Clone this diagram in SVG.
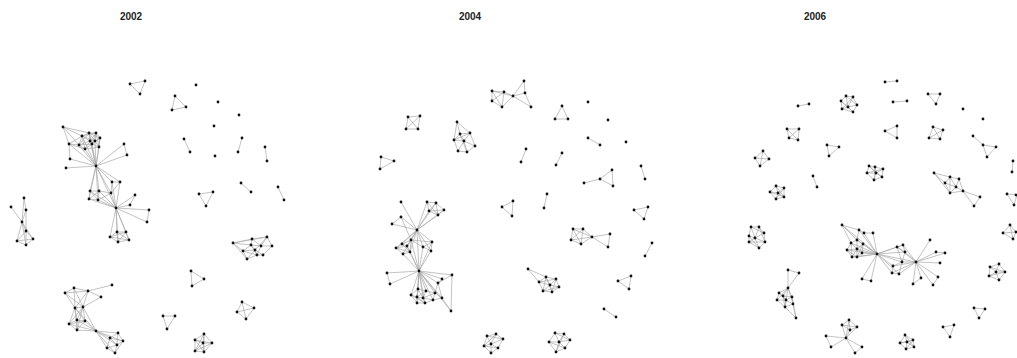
<svg xmlns="http://www.w3.org/2000/svg" xmlns:xlink="http://www.w3.org/1999/xlink" width="1017" height="358" viewBox="0 0 1017 358">
<style>
.t{font-family:"Liberation Sans",Arial,sans-serif;font-size:10px;font-weight:bold;fill:#222;text-anchor:middle}
.e{fill:none;stroke:#a9a9a9;stroke-width:0.7}
</style>
<defs><circle id="v" r="1.4" fill="#111"/></defs>
<rect width="1017" height="358" fill="#fff"/>
<text class="t" x="131" y="20">2002</text>
<text class="t" x="470" y="20">2004</text>
<text class="t" x="815" y="20">2006</text>
<g id="connectors">
<!-- 2002 -->
<path class="e" d="M130 84L145 81L140 94Z"/>
<path class="e" d="M63 127L82 136M63 127L89 133M63 127L69 144M63 127L79 145M82 136L89 133M82 136L96 133M82 136L69 144M82 136L79 145M82 136L85 149M82 136L90 141M82 136L95 141M89 133L96 133M89 133L100 138M89 133L90 141M89 133L95 141M89 133L92 144M89 133L79 145M96 133L100 138M96 133L95 141M96 133L90 141M96 133L99 147M96 133L92 144M100 138L99 147M100 138L95 141M100 138L92 144M69 144L79 145M69 144L85 149M69 144L70 159M79 145L85 149M79 145L90 141M79 145L92 144M85 149L92 144M85 149L90 141M85 149L99 147M92 144L99 147M92 144L95 141M92 144L90 141M99 147L95 141M95 141L90 141M96 166L69 144M96 166L79 145M96 166L85 149M96 166L92 144M96 166L99 147M96 166L95 141M96 166L90 141M96 166L100 138M96 166L70 159M96 166L66 168M96 166L124 144M96 166L127 155M96 166L82 136M96 166L89 133M124 144L127 155M96 166L112 182M96 166L120 182M96 166L90 191M96 166L99 191M96 166L89 199M96 166L98 200M96 166L111 193M96 166L116 208M112 182L120 182M112 182L111 193M120 182L111 193M90 191L99 191M90 191L89 199M99 191L98 200M89 199L98 200M90 191L98 200M99 191L89 199M99 191L111 193M98 200L111 193M111 193L116 208M112 182L116 208M120 182L116 208M90 191L116 208M99 191L116 208M89 199L116 208M98 200L116 208M116 208L135 195M116 208L130 205M116 208L149 210M135 195L130 205M116 208L147 222M149 210L147 222M116 208L110 237M116 208L117 232M116 208L126 232M116 208L129 240M116 208L118 242M110 237L117 232M117 232L126 232M126 232L129 240M129 240L118 242M118 242L110 237M110 237L126 232M117 232L118 242M117 232L129 240M110 237L129 240M126 232L118 242"/>
<path class="e" d="M24 198L26 210M24 198L22 222M11 207L22 222M26 210L22 222M26 210L26 231M22 222L26 231M22 222L17 241M22 222L26 245M26 231L33 239M26 231L17 241M26 231L26 245M33 239L26 245M17 241L26 245M33 239L17 241M22 222L33 239"/>
<path class="e" d="M112 285L88 291M74 288L88 291M74 288L65 293M65 293L88 291M88 291L101 297M74 288L75 308M74 288L83 307M88 291L75 308M88 291L83 307M65 293L75 308M65 293L83 307M101 297L83 307M75 308L83 307M75 308L77 320M75 308L85 321M75 308L69 324M75 308L77 330M83 307L77 320M83 307L85 321M83 307L69 324M83 307L77 330M77 320L85 321M77 320L69 324M85 321L69 324M69 324L77 330M85 321L77 330M77 320L77 330M77 330L96 331M85 321L96 331M69 324L96 331M77 320L96 331M75 308L96 331M83 307L96 331M96 331L110 338M96 331L118 333M96 331L123 341M96 331L117 345M96 331L107 348M96 331L115 353M110 338L118 333M110 338L123 341M118 333L123 341M123 341L117 345M117 345L107 348M107 348L115 353M117 345L115 353M110 338L107 348M110 338L117 345M118 333L117 345M123 341L115 353"/>
<path class="e" d="M175 96L186 107L172 110ZM184 139L190 152M242 138L238 152M265 147L267 161M241 183L251 192M278 187L284 200M199 194L213 192L206 206Z"/>
<path class="e" d="M233 243L252 239M233 243L267 237M233 243L243 251M233 243L247 259M252 239L267 237M252 239L251 245M252 239L261 246M267 237L272 246M267 237L261 246M267 237L255 250M272 246L261 246M272 246L263 255M261 246L257 255M261 246L251 245M251 245L243 251M251 245L255 250M243 251L247 259M243 251L255 250M247 259L257 255M247 259L255 250M257 255L263 255M257 255L255 250M263 255L255 250M251 245L257 255M243 251L257 255M233 243L251 245"/>
<path class="e" d="M191 271L204 279L192 286ZM242 302L254 308L246 319L237 312ZM242 302L246 319M254 308L237 312M163 316L175 316L167 329Z"/>
<path class="e" d="M204 334L195 340M204 334L212 343M195 340L195 351M212 343L204 352M195 351L204 352M204 334L203 343M195 340L203 343M212 343L203 343M195 351L203 343M204 352L203 343M204 334L195 351M195 340L204 352M204 334L204 352M195 340L212 343M212 343L195 351"/>
<!-- 2004 -->
<path class="e" d="M492 91L504 92M492 91L492 101M492 91L502 107M504 92L513 96M504 92L502 107M492 101L502 107M513 96L502 107M504 92L492 101M513 96L524 81M513 96L525 93M513 96L531 107M524 81L525 93M525 93L531 107M492 91L513 96"/>
<path class="e" d="M408 117L420 116L418 129L406 129ZM408 117L418 129M420 116L406 129"/>
<path class="e" d="M457 122L460 134M457 122L470 133M457 122L454 140M460 134L470 133M460 134L454 140M460 134L464 141M470 133L464 141M470 133L475 146M454 140L464 141M454 140L458 151M464 141L475 146M464 141L458 151M464 141L467 152M475 146L467 152M458 151L467 152M470 133L454 140M460 134L467 152"/>
<path class="e" d="M381 157L394 161L380 169ZM562 106L555 119L568 119ZM588 138L600 145M526 149L521 162M562 153L556 165M641 166L645 179M547 194L544 208M652 243L645 256M604 309L616 317M584 183L600 179M600 179L612 170L613 186ZM513 201L502 207L512 216ZM634 210L648 207L644 219ZM618 281L631 276L629 289Z"/>
<path class="e" d="M401 202L417 230M427 202L417 230M436 203L417 230M429 211L417 230M438 215L417 230M444 210L417 230M427 202L436 203M436 203L444 210M427 202L429 211M429 211L438 215M444 210L438 215M436 203L438 215M436 203L429 211M427 202L438 215M444 210L429 211M401 217L392 224M392 224L417 230M401 217L417 230M401 217L411 240M417 230L411 240M417 230L432 242M417 230L402 244M417 230L396 248M417 230L407 246M417 230L423 247M417 230L431 251M417 230L410 252M417 230L403 254M411 240L407 246M402 244L396 248M396 248L407 246M396 248L403 254M402 244L410 252M411 240L423 247M432 242L423 247M432 242L431 251M423 247L431 251M410 252L403 254M411 240L410 252M402 244L407 246M402 244L411 240M407 246L410 252M396 248L410 252M432 242L411 240M417 230L419 271M419 271L411 240M419 271L423 247M419 271L410 252M419 271L431 251M419 271L407 246M419 271L403 254M419 271L432 242M419 271L387 273M387 273L390 284M419 271L390 284M419 271L452 275M419 271L442 279M419 271L438 283M452 275L438 283M452 275L451 311M442 279L438 283M419 271L418 289M419 271L426 291M419 271L411 295M419 271L417 297M419 271L423 298M419 271L435 293M419 271L442 298M419 271L433 300M419 271L417 303M419 271L425 303M419 271L451 311M418 289L426 291M418 289L411 295M418 289L417 297M426 291L423 298M426 291L435 293M411 295L417 297M411 295L417 303M417 297L423 298M417 297L417 303M417 297L425 303M423 298L425 303M423 298L433 300M435 293L442 298M435 293L433 300M442 298L433 300M433 300L425 303M417 303L425 303M426 291L417 297M418 289L423 298M411 295L425 303M435 293L423 298M442 298L451 311M438 283L435 293M438 283L442 298"/>
<path class="e" d="M487 336L496 334M487 336L484 346M487 336L491 344M496 334L503 339M496 334L491 344M484 346L491 344M484 346L491 353M491 344L498 348M503 339L498 348M498 348L491 353M491 344L491 353M491 344L503 339M487 336L503 339M496 334L484 346M484 346L498 348"/>
<path class="e" d="M573 229L583 229M573 229L571 240M573 229L581 244M583 229L571 240M583 229L581 244M583 229L592 237M571 240L581 244M581 244L592 237M573 229L592 237M571 240L592 237M592 237L610 234M592 237L608 247M610 234L608 247"/>
<path class="e" d="M528 269L539 282M528 269L546 277M539 282L546 277M546 277L556 279M556 279L559 287M559 287L552 292M552 292L543 291M543 291L539 282M550 285L539 282M550 285L546 277M550 285L556 279M550 285L559 287M550 285L552 292M550 285L543 291M546 277L552 292M539 282L556 279M543 291L559 287M546 277L543 291M556 279L552 292"/>
<path class="e" d="M555 333L564 334M555 333L549 342M564 334L570 340M549 342L556 352M570 340L565 348M565 348L556 352M559 342L555 333M559 342L564 334M559 342L549 342M559 342L570 340M559 342L565 348M559 342L556 352M555 333L570 340M549 342L565 348M564 334L556 352"/>
<!-- 2006 -->
<path class="e" d="M798 106L809 104M885 82L897 81M893 102L907 101M928 94L940 94L936 104ZM885 131L897 126L897 138ZM827 145L839 147L829 156ZM813 176L817 187M973 136L983 145M983 145L996 147L987 157ZM1013 161L1012 172M1007 194L1017 195L1014 205ZM974 308L985 309L979 318ZM943 327L954 325L950 337Z"/>
<path class="e" d="M787 129L799 129L798 140L789 138ZM787 129L798 140M799 129L789 138M763 151L769 159L760 166L755 158ZM763 151L760 166M755 158L769 159M933 127L943 130L940 139L929 138ZM933 127L940 139M943 130L929 138M1010 225L1016 232L1013 239L1003 233ZM1010 225L1013 239M1016 232L1003 233"/>
<path class="e" d="M846 96L853 97M846 96L841 101M853 97L857 105M841 101L842 109M857 105L853 112M842 109L853 112M848 107L846 96M848 107L853 97M848 107L841 101M848 107L857 105M848 107L842 109M848 107L853 112M846 96L857 105M841 101L853 112M853 97L842 109"/>
<path class="e" d="M776 186L784 188M776 186L770 192M784 188L784 197M770 192L776 199M784 197L776 199M778 193L776 186M778 193L784 188M778 193L770 192M778 193L784 197M778 193L776 199M776 186L784 197M770 192L784 197M784 188L776 199"/>
<path class="e" d="M869 166L875 167M875 167L883 169M869 166L867 173M883 169L882 177M867 173L874 180M882 177L874 180M876 173L869 166M876 173L875 167M876 173L883 169M876 173L867 173M876 173L882 177M876 173L874 180M869 166L882 177M875 167L874 180M867 173L883 169"/>
<path class="e" d="M934 173L950 177M934 173L945 183M950 177L959 179M950 177L945 183M950 177L956 187M959 179L956 187M945 183L956 187M945 183L950 193M956 187L950 193M950 193L963 191M956 187L963 191M959 179L963 191M963 191L980 197M963 191L974 206M980 197L974 206M934 173L950 193M950 177L950 193"/>
<path class="e" d="M751 227L759 227M759 227L764 233M751 227L749 236M764 233L765 242M749 236L749 242M749 242L759 248M765 242L759 248M755 238L751 227M755 238L759 227M755 238L764 233M755 238L749 236M755 238L749 242M755 238L759 248M755 238L765 242M751 227L764 233M749 236L759 248M759 227L765 242M749 242L765 242"/>
<path class="e" d="M842 225L859 230M842 225L851 243M842 225L857 240M842 225L877 254M859 230L864 233M859 230L877 254M859 230L857 240M864 233L877 254M864 233L873 233M873 233L877 254M851 243L857 240M851 243L847 250M851 243L857 249M857 240L863 244M857 240L857 249M863 244L862 253M863 244L857 249M847 250L852 257M847 250L857 249M857 249L852 257M857 249L857 257M857 249L862 253M852 257L857 257M857 257L862 253M851 243L852 257M863 244L857 257M847 250L857 257M877 254L851 243M877 254L857 240M877 254L863 244M877 254L847 250M877 254L857 249M877 254L852 257M877 254L857 257M877 254L862 253M877 254L862 279M877 254L871 281M862 279L871 281M877 254L916 262M877 254L903 245M877 254L897 247M877 254L905 252M877 254L902 262M877 254L893 266M877 254L892 273M877 254L899 274M916 262L903 245M916 262L897 247M916 262L905 252M916 262L902 262M916 262L893 266M916 262L892 273M916 262L899 274M903 245L897 247M903 245L905 252M897 247L902 262M905 252L902 262M902 262L893 266M893 266L892 273M892 273L899 274M902 262L899 274M897 247L905 252M916 262L930 240M916 262L936 252M916 262L945 253M916 262L940 263M916 262L913 284M916 262L921 278M916 262L938 277M916 262L933 285M913 284L921 278M938 277L933 285M936 252L945 253"/>
<path class="e" d="M788 270L799 273M788 270L788 288M799 273L788 288M788 288L779 293M788 288L783 296M788 288L792 297M788 288L777 300M788 288L793 304M788 288L785 307M779 293L783 296M779 293L777 300M783 296L792 297M783 296L785 307M792 297L793 304M777 300L785 307M793 304L785 307M786 300L779 293M786 300L792 297M786 300L777 300M786 300L793 304M786 300L785 307M786 300L783 296M793 304L796 318M785 307L796 318M792 297L796 318"/>
<path class="e" d="M849 320L842 325M849 320L857 327M842 325L850 330M849 320L850 330M857 327L850 330M842 325L857 327M846 338L849 320M846 338L842 325M846 338L857 327M846 338L850 330M846 338L826 336M846 338L831 347M826 336L831 347M846 338L862 347M846 338L855 353M862 347L855 353"/>
<path class="e" d="M999 264L990 267M999 264L1005 272M990 267L989 276M1005 272L999 280M989 276L999 280M996 272L999 264M996 272L990 267M996 272L1005 272M996 272L989 276M996 272L999 280M990 267L1005 272M989 276L1005 272"/>
<path class="e" d="M905 335L900 343M905 335L913 340M900 343L906 349M913 340L914 347M914 347L906 349M907 342L905 335M907 342L900 343M907 342L913 340M907 342L914 347M907 342L906 349M905 335L914 347M900 343L913 340M913 340L906 349"/>
</g>
<g id="nodes-2002">
<g id="n02-a"><use href="#v" x="130" y="84"/><use href="#v" x="145" y="81"/><use href="#v" x="140" y="94"/></g>
<g id="n02-b"><use href="#v" x="63" y="127"/><use href="#v" x="82" y="136"/><use href="#v" x="89" y="133"/><use href="#v" x="96" y="133"/><use href="#v" x="100" y="138"/><use href="#v" x="69" y="144"/><use href="#v" x="79" y="145"/><use href="#v" x="85" y="149"/><use href="#v" x="92" y="144"/><use href="#v" x="99" y="147"/><use href="#v" x="95" y="141"/><use href="#v" x="90" y="141"/><use href="#v" x="70" y="159"/><use href="#v" x="66" y="168"/><use href="#v" x="96" y="166"/><use href="#v" x="124" y="144"/><use href="#v" x="127" y="155"/><use href="#v" x="112" y="182"/><use href="#v" x="120" y="182"/><use href="#v" x="90" y="191"/><use href="#v" x="99" y="191"/><use href="#v" x="89" y="199"/><use href="#v" x="98" y="200"/><use href="#v" x="111" y="193"/><use href="#v" x="116" y="208"/><use href="#v" x="135" y="195"/><use href="#v" x="130" y="205"/><use href="#v" x="149" y="210"/><use href="#v" x="147" y="222"/><use href="#v" x="110" y="237"/><use href="#v" x="117" y="232"/><use href="#v" x="126" y="232"/><use href="#v" x="129" y="240"/><use href="#v" x="118" y="242"/></g>
<g id="n02-c"><use href="#v" x="24" y="198"/><use href="#v" x="11" y="207"/><use href="#v" x="26" y="210"/><use href="#v" x="22" y="222"/><use href="#v" x="26" y="231"/><use href="#v" x="33" y="239"/><use href="#v" x="17" y="241"/><use href="#v" x="26" y="245"/></g>
<g id="n02-d"><use href="#v" x="112" y="285"/><use href="#v" x="74" y="288"/><use href="#v" x="88" y="291"/><use href="#v" x="65" y="293"/><use href="#v" x="101" y="297"/><use href="#v" x="75" y="308"/><use href="#v" x="83" y="307"/><use href="#v" x="77" y="320"/><use href="#v" x="85" y="321"/><use href="#v" x="69" y="324"/><use href="#v" x="77" y="330"/><use href="#v" x="96" y="331"/><use href="#v" x="110" y="338"/><use href="#v" x="118" y="333"/><use href="#v" x="123" y="341"/><use href="#v" x="117" y="345"/><use href="#v" x="107" y="348"/><use href="#v" x="115" y="353"/></g>
<g id="n02-e"><use href="#v" x="196" y="85"/><use href="#v" x="218" y="102"/><use href="#v" x="239" y="115"/><use href="#v" x="214" y="126"/><use href="#v" x="215" y="156"/><use href="#v" x="175" y="96"/><use href="#v" x="186" y="107"/><use href="#v" x="172" y="110"/><use href="#v" x="184" y="139"/><use href="#v" x="190" y="152"/><use href="#v" x="242" y="138"/><use href="#v" x="238" y="152"/><use href="#v" x="265" y="147"/><use href="#v" x="267" y="161"/><use href="#v" x="241" y="183"/><use href="#v" x="251" y="192"/><use href="#v" x="278" y="187"/><use href="#v" x="284" y="200"/><use href="#v" x="199" y="194"/><use href="#v" x="213" y="192"/><use href="#v" x="206" y="206"/></g>
<g id="n02-f"><use href="#v" x="233" y="243"/><use href="#v" x="252" y="239"/><use href="#v" x="267" y="237"/><use href="#v" x="272" y="246"/><use href="#v" x="261" y="246"/><use href="#v" x="251" y="245"/><use href="#v" x="243" y="251"/><use href="#v" x="247" y="259"/><use href="#v" x="257" y="255"/><use href="#v" x="263" y="255"/><use href="#v" x="255" y="250"/></g>
<g id="n02-g"><use href="#v" x="191" y="271"/><use href="#v" x="204" y="279"/><use href="#v" x="192" y="286"/><use href="#v" x="242" y="302"/><use href="#v" x="254" y="308"/><use href="#v" x="237" y="312"/><use href="#v" x="246" y="319"/><use href="#v" x="163" y="316"/><use href="#v" x="175" y="316"/><use href="#v" x="167" y="329"/><use href="#v" x="204" y="334"/><use href="#v" x="195" y="340"/><use href="#v" x="212" y="343"/><use href="#v" x="195" y="351"/><use href="#v" x="204" y="352"/><use href="#v" x="203" y="343"/></g>
</g>
<g id="nodes-2004">
<g id="n04-a"><use href="#v" x="492" y="91"/><use href="#v" x="504" y="92"/><use href="#v" x="513" y="96"/><use href="#v" x="492" y="101"/><use href="#v" x="502" y="107"/><use href="#v" x="524" y="81"/><use href="#v" x="525" y="93"/><use href="#v" x="531" y="107"/></g>
<g id="n04-b"><use href="#v" x="408" y="117"/><use href="#v" x="420" y="116"/><use href="#v" x="406" y="129"/><use href="#v" x="418" y="129"/><use href="#v" x="381" y="157"/><use href="#v" x="394" y="161"/><use href="#v" x="380" y="169"/></g>
<g id="n04-c"><use href="#v" x="457" y="122"/><use href="#v" x="460" y="134"/><use href="#v" x="470" y="133"/><use href="#v" x="454" y="140"/><use href="#v" x="464" y="141"/><use href="#v" x="475" y="146"/><use href="#v" x="458" y="151"/><use href="#v" x="467" y="152"/></g>
<g id="n04-d"><use href="#v" x="562" y="106"/><use href="#v" x="555" y="119"/><use href="#v" x="568" y="119"/><use href="#v" x="588" y="102"/><use href="#v" x="608" y="120"/><use href="#v" x="626" y="142"/><use href="#v" x="588" y="138"/><use href="#v" x="600" y="145"/><use href="#v" x="526" y="149"/><use href="#v" x="521" y="162"/><use href="#v" x="562" y="153"/><use href="#v" x="556" y="165"/><use href="#v" x="641" y="166"/><use href="#v" x="645" y="179"/><use href="#v" x="547" y="194"/><use href="#v" x="544" y="208"/><use href="#v" x="652" y="243"/><use href="#v" x="645" y="256"/><use href="#v" x="604" y="309"/><use href="#v" x="616" y="317"/><use href="#v" x="584" y="183"/><use href="#v" x="600" y="179"/><use href="#v" x="612" y="170"/><use href="#v" x="613" y="186"/><use href="#v" x="513" y="201"/><use href="#v" x="502" y="207"/><use href="#v" x="512" y="216"/><use href="#v" x="634" y="210"/><use href="#v" x="648" y="207"/><use href="#v" x="644" y="219"/><use href="#v" x="618" y="281"/><use href="#v" x="631" y="276"/><use href="#v" x="629" y="289"/></g>
<g id="n04-e"><use href="#v" x="401" y="202"/><use href="#v" x="427" y="202"/><use href="#v" x="436" y="203"/><use href="#v" x="444" y="210"/><use href="#v" x="429" y="211"/><use href="#v" x="438" y="215"/><use href="#v" x="401" y="217"/><use href="#v" x="392" y="224"/><use href="#v" x="417" y="230"/><use href="#v" x="411" y="240"/><use href="#v" x="432" y="242"/><use href="#v" x="402" y="244"/><use href="#v" x="396" y="248"/><use href="#v" x="407" y="246"/><use href="#v" x="423" y="247"/><use href="#v" x="431" y="251"/><use href="#v" x="410" y="252"/><use href="#v" x="403" y="254"/><use href="#v" x="419" y="271"/><use href="#v" x="387" y="273"/><use href="#v" x="390" y="284"/><use href="#v" x="452" y="275"/><use href="#v" x="442" y="279"/><use href="#v" x="438" y="283"/><use href="#v" x="418" y="289"/><use href="#v" x="426" y="291"/><use href="#v" x="411" y="295"/><use href="#v" x="417" y="297"/><use href="#v" x="423" y="298"/><use href="#v" x="435" y="293"/><use href="#v" x="442" y="298"/><use href="#v" x="433" y="300"/><use href="#v" x="417" y="303"/><use href="#v" x="425" y="303"/><use href="#v" x="451" y="311"/></g>
<g id="n04-f"><use href="#v" x="487" y="336"/><use href="#v" x="496" y="334"/><use href="#v" x="484" y="346"/><use href="#v" x="491" y="344"/><use href="#v" x="503" y="339"/><use href="#v" x="498" y="348"/><use href="#v" x="491" y="353"/></g>
<g id="n04-g"><use href="#v" x="573" y="229"/><use href="#v" x="583" y="229"/><use href="#v" x="571" y="240"/><use href="#v" x="581" y="244"/><use href="#v" x="592" y="237"/><use href="#v" x="610" y="234"/><use href="#v" x="608" y="247"/></g>
<g id="n04-h"><use href="#v" x="528" y="269"/><use href="#v" x="539" y="282"/><use href="#v" x="546" y="277"/><use href="#v" x="556" y="279"/><use href="#v" x="559" y="287"/><use href="#v" x="552" y="292"/><use href="#v" x="543" y="291"/><use href="#v" x="550" y="285"/></g>
<g id="n04-i"><use href="#v" x="555" y="333"/><use href="#v" x="564" y="334"/><use href="#v" x="549" y="342"/><use href="#v" x="559" y="342"/><use href="#v" x="570" y="340"/><use href="#v" x="565" y="348"/><use href="#v" x="556" y="352"/></g>
</g>
<g id="nodes-2006">
<g id="n06-a"><use href="#v" x="798" y="106"/><use href="#v" x="809" y="104"/><use href="#v" x="885" y="82"/><use href="#v" x="897" y="81"/><use href="#v" x="893" y="102"/><use href="#v" x="907" y="101"/><use href="#v" x="928" y="94"/><use href="#v" x="940" y="94"/><use href="#v" x="936" y="104"/><use href="#v" x="963" y="109"/><use href="#v" x="983" y="119"/><use href="#v" x="885" y="131"/><use href="#v" x="897" y="126"/><use href="#v" x="897" y="138"/><use href="#v" x="827" y="145"/><use href="#v" x="839" y="147"/><use href="#v" x="829" y="156"/><use href="#v" x="813" y="176"/><use href="#v" x="817" y="187"/><use href="#v" x="973" y="136"/><use href="#v" x="983" y="145"/><use href="#v" x="996" y="147"/><use href="#v" x="987" y="157"/><use href="#v" x="1013" y="161"/><use href="#v" x="1012" y="172"/><use href="#v" x="1007" y="194"/><use href="#v" x="1016" y="195"/><use href="#v" x="1014" y="205"/><use href="#v" x="974" y="308"/><use href="#v" x="985" y="309"/><use href="#v" x="979" y="318"/><use href="#v" x="943" y="327"/><use href="#v" x="954" y="325"/><use href="#v" x="950" y="337"/></g>
<g id="n06-b"><use href="#v" x="787" y="129"/><use href="#v" x="799" y="129"/><use href="#v" x="789" y="138"/><use href="#v" x="798" y="140"/><use href="#v" x="763" y="151"/><use href="#v" x="755" y="158"/><use href="#v" x="769" y="159"/><use href="#v" x="760" y="166"/><use href="#v" x="933" y="127"/><use href="#v" x="943" y="130"/><use href="#v" x="929" y="138"/><use href="#v" x="940" y="139"/><use href="#v" x="1010" y="225"/><use href="#v" x="1003" y="233"/><use href="#v" x="1016" y="232"/><use href="#v" x="1013" y="239"/></g>
<g id="n06-c"><use href="#v" x="846" y="96"/><use href="#v" x="853" y="97"/><use href="#v" x="841" y="101"/><use href="#v" x="857" y="105"/><use href="#v" x="842" y="109"/><use href="#v" x="853" y="112"/><use href="#v" x="848" y="107"/></g>
<g id="n06-d"><use href="#v" x="776" y="186"/><use href="#v" x="784" y="188"/><use href="#v" x="770" y="192"/><use href="#v" x="784" y="197"/><use href="#v" x="776" y="199"/><use href="#v" x="778" y="193"/></g>
<g id="n06-e"><use href="#v" x="869" y="166"/><use href="#v" x="875" y="167"/><use href="#v" x="883" y="169"/><use href="#v" x="867" y="173"/><use href="#v" x="882" y="177"/><use href="#v" x="874" y="180"/><use href="#v" x="876" y="173"/></g>
<g id="n06-f"><use href="#v" x="934" y="173"/><use href="#v" x="950" y="177"/><use href="#v" x="959" y="179"/><use href="#v" x="945" y="183"/><use href="#v" x="956" y="187"/><use href="#v" x="950" y="193"/><use href="#v" x="963" y="191"/><use href="#v" x="980" y="197"/><use href="#v" x="974" y="206"/></g>
<g id="n06-g"><use href="#v" x="751" y="227"/><use href="#v" x="759" y="227"/><use href="#v" x="764" y="233"/><use href="#v" x="749" y="236"/><use href="#v" x="749" y="242"/><use href="#v" x="759" y="248"/><use href="#v" x="765" y="242"/><use href="#v" x="755" y="238"/></g>
<g id="n06-h"><use href="#v" x="842" y="225"/><use href="#v" x="859" y="230"/><use href="#v" x="864" y="233"/><use href="#v" x="873" y="233"/><use href="#v" x="851" y="243"/><use href="#v" x="857" y="240"/><use href="#v" x="863" y="244"/><use href="#v" x="847" y="250"/><use href="#v" x="857" y="249"/><use href="#v" x="852" y="257"/><use href="#v" x="857" y="257"/><use href="#v" x="862" y="253"/><use href="#v" x="877" y="254"/><use href="#v" x="862" y="279"/><use href="#v" x="871" y="281"/><use href="#v" x="916" y="262"/><use href="#v" x="903" y="245"/><use href="#v" x="897" y="247"/><use href="#v" x="905" y="252"/><use href="#v" x="902" y="262"/><use href="#v" x="893" y="266"/><use href="#v" x="892" y="273"/><use href="#v" x="899" y="274"/><use href="#v" x="930" y="240"/><use href="#v" x="936" y="252"/><use href="#v" x="945" y="253"/><use href="#v" x="940" y="263"/><use href="#v" x="913" y="284"/><use href="#v" x="921" y="278"/><use href="#v" x="938" y="277"/><use href="#v" x="933" y="285"/></g>
<g id="n06-i"><use href="#v" x="788" y="270"/><use href="#v" x="799" y="273"/><use href="#v" x="788" y="288"/><use href="#v" x="779" y="293"/><use href="#v" x="783" y="296"/><use href="#v" x="792" y="297"/><use href="#v" x="777" y="300"/><use href="#v" x="793" y="304"/><use href="#v" x="785" y="307"/><use href="#v" x="786" y="300"/><use href="#v" x="796" y="318"/></g>
<g id="n06-j"><use href="#v" x="849" y="320"/><use href="#v" x="842" y="325"/><use href="#v" x="857" y="327"/><use href="#v" x="850" y="330"/><use href="#v" x="846" y="338"/><use href="#v" x="826" y="336"/><use href="#v" x="831" y="347"/><use href="#v" x="862" y="347"/><use href="#v" x="855" y="353"/></g>
<g id="n06-k"><use href="#v" x="999" y="264"/><use href="#v" x="990" y="267"/><use href="#v" x="1005" y="272"/><use href="#v" x="996" y="272"/><use href="#v" x="989" y="276"/><use href="#v" x="999" y="280"/><use href="#v" x="905" y="335"/><use href="#v" x="900" y="343"/><use href="#v" x="913" y="340"/><use href="#v" x="914" y="347"/><use href="#v" x="906" y="349"/><use href="#v" x="907" y="342"/></g>
</g>
</svg>
